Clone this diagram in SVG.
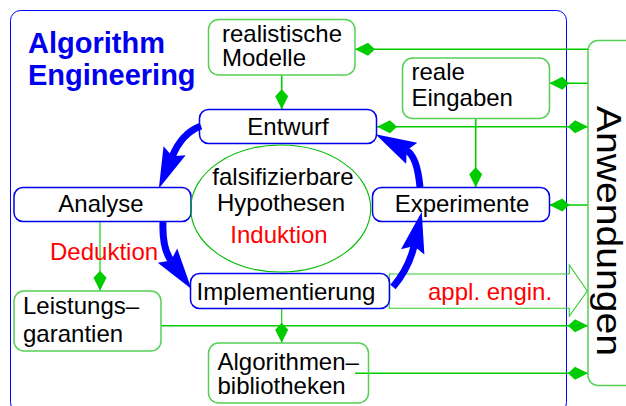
<svg xmlns="http://www.w3.org/2000/svg" width="626" height="406" viewBox="0 0 626 406">
<defs>
<style>
.t{font-family:"Liberation Sans",Arial,Helvetica,sans-serif;font-size:24px;fill:#000}
.red{fill:#ff0000}
.title{font-family:"Liberation Sans",Arial,Helvetica,sans-serif;font-weight:bold;font-size:29px;fill:#0000ee}
.gbox{fill:none;stroke:#55d055;stroke-width:1.5}
.bbox{fill:none;stroke:#0000ee;stroke-width:1.5}
.gl{fill:none;stroke:#00cc00;stroke-width:1.6}
.gthin{fill:none;stroke:#00cc00;stroke-width:1.1}
.cyc{fill:none;stroke:#0000ff;stroke-width:7}
</style>
<marker id="kite" markerUnits="userSpaceOnUse" markerWidth="22" markerHeight="16" viewBox="0 -8 22 16" refX="20" refY="0" orient="auto-start-reverse">
<path d="M0,0 L7,-6.5 L20,0 L7,6.5 Z" fill="#00cc00"/>
</marker>
<marker id="bhead" markerUnits="userSpaceOnUse" markerWidth="44" markerHeight="28" viewBox="0 -14 44 28" refX="6" refY="0" orient="auto">
<path d="M41,0 L0,-12 L6,0 L0,12 Z" fill="#0000ff"/>
</marker>
</defs>
<rect width="626" height="406" fill="#fff"/>
<rect x="10.5" y="10.5" width="556" height="402" rx="10" fill="none" stroke="#0000ff" stroke-width="1"/>

<g id="title">
<text class="title" x="28" y="53">Algorithm</text>
<text class="title" x="28" y="85">Engineering</text>
</g>

<g id="connectors">
<line class="gl" x1="588" y1="49.3" x2="355" y2="49.3" marker-end="url(#kite)"/>
<line class="gl" x1="588" y1="83.3" x2="549.3" y2="83.3" marker-end="url(#kite)"/>
<line class="gl" x1="377" y1="126.7" x2="588" y2="126.7" marker-start="url(#kite)" marker-end="url(#kite)"/>
<line class="gl" x1="475.7" y1="118.3" x2="475.7" y2="187.3" marker-end="url(#kite)"/>
<line class="gl" x1="588" y1="205" x2="549.3" y2="205" marker-end="url(#kite)"/>
<line class="gl" x1="281.7" y1="75" x2="281.7" y2="109.3" marker-end="url(#kite)"/>
<line class="gthin" x1="100" y1="221.7" x2="100" y2="290.7" marker-end="url(#kite)"/>
<line class="gl" x1="161" y1="325.7" x2="588" y2="325.7" marker-end="url(#kite)"/>
<line class="gthin" x1="281.7" y1="308.3" x2="281.7" y2="342.7" marker-end="url(#kite)"/>
<line class="gl" x1="355" y1="373.3" x2="588" y2="373.3" marker-end="url(#kite)"/>
<text class="t red" x="50" y="260">Deduktion</text>
<polygon points="389.3,274 569.3,274 569.3,265 587.3,291 569.3,316 569.3,308.3 389.3,308.3" fill="none" stroke="#33cc33" stroke-width="1.1"/>
<text class="t red" x="428" y="299.5">appl. engin.</text>
<path class="cyc" d="M201,126 Q182,133 172.3,156.3" marker-end="url(#bhead)"/>
<path class="cyc" d="M163,222 Q162,248 171,260.5" marker-end="url(#bhead)"/>
<path class="cyc" d="M393,287 Q409,268 414,246" marker-end="url(#bhead)"/>
<path class="cyc" d="M420,187 Q417,156 406.5,150.5" marker-end="url(#bhead)"/>
</g>

<g id="modelle">
<rect class="gbox" x="208.5" y="19.5" width="146.5" height="55.5" rx="10"/>
<text class="t" x="222" y="42">realistische</text>
<text class="t" x="222" y="66">Modelle</text>
</g>
<g id="eingaben">
<rect class="gbox" x="402.5" y="58" width="147" height="60.5" rx="10"/>
<text class="t" x="411.5" y="80">reale</text>
<text class="t" x="411.5" y="106">Eingaben</text>
</g>
<g id="entwurf">
<rect class="bbox" x="199.5" y="109.5" width="177" height="34" rx="9"/>
<text class="t" x="288" y="135" text-anchor="middle">Entwurf</text>
</g>
<g id="analyse">
<rect class="bbox" x="14" y="187.5" width="177" height="34" rx="9"/>
<text class="t" x="101" y="211.5" text-anchor="middle">Analyse</text>
</g>
<g id="hypothesen">
<ellipse cx="280.7" cy="208.5" rx="90" ry="63.5" fill="none" stroke="#00bb00" stroke-width="1.1"/>
<text class="t" x="283" y="185" text-anchor="middle">falsifizierbare</text>
<text class="t" x="281" y="210.5" text-anchor="middle">Hypothesen</text>
<text class="t red" x="279" y="243" text-anchor="middle">Induktion</text>
</g>
<g id="experimente">
<rect class="bbox" x="372.5" y="187.5" width="177" height="34" rx="9"/>
<text class="t" x="462" y="211.5" text-anchor="middle">Experimente</text>
</g>
<g id="implementierung">
<rect class="bbox" x="190.5" y="273.5" width="199" height="35" rx="9"/>
<text class="t" x="286" y="300" text-anchor="middle">Implementierung</text>
</g>
<g id="leistungsgarantien">
<rect class="gbox" x="14" y="291" width="147" height="60" rx="10"/>
<text class="t" x="23" y="313.5">Leistungs–</text>
<text class="t" x="23" y="341.5">garantien</text>
</g>
<g id="algorithmenbibliotheken">
<rect class="gbox" x="208.5" y="343" width="160" height="60" rx="10"/>
<text class="t" x="217.5" y="370">Algorithmen–</text>
<text class="t" x="217.5" y="393.5">bibliotheken</text>
</g>
<g id="anwendungen">
<rect class="gbox" x="588" y="40.5" width="60" height="345" rx="10"/>
<text class="t" transform="translate(597,231) rotate(90)" text-anchor="middle" style="font-size:35px" textLength="250" lengthAdjust="spacingAndGlyphs">Anwendungen</text>
</g>
</svg>
